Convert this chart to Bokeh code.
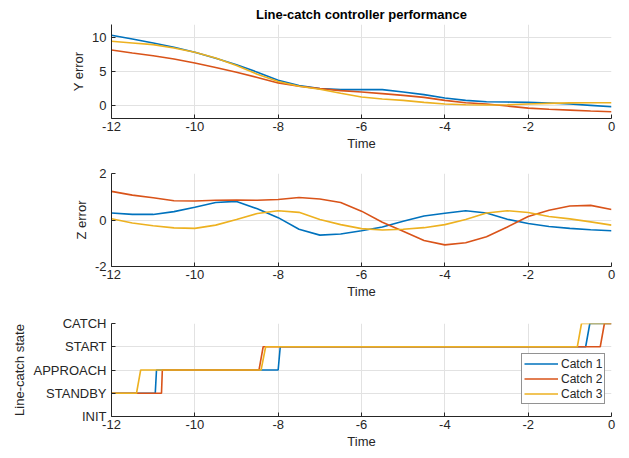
from bokeh.plotting import figure
from bokeh.layouts import column
from bokeh.models import FixedTicker, Range1d, Legend, LegendItem
from bokeh.embed import file_html
from bokeh.resources import INLINE

# ---------------- data ----------------
time = [-12, -11.5, -11, -10.5, -10, -9.5, -9, -8.5, -8, -7.5, -7, -6.5, -6,
        -5.5, -5, -4.5, -4, -3.5, -3, -2.5, -2, -1.5, -1, -0.5, 0]

y_err_1 = [10.4, 9.85, 9.25, 8.6, 7.86, 6.97, 6.0, 4.9, 3.7, 2.9, 2.45, 2.3, 2.3,
           2.3, 1.95, 1.55, 1.05, 0.7, 0.5, 0.45, 0.4, 0.3, 0.15, -0.05, -0.25]
y_err_2 = [8.2, 7.75, 7.35, 6.85, 6.27, 5.6, 4.9, 4.1, 3.3, 2.8, 2.45, 2.15, 1.95,
           1.7, 1.45, 1.15, 0.7, 0.35, 0.15, -0.15, -0.45, -0.62, -0.75, -0.88, -1.0]
y_err_3 = [9.5, 9.25, 9.0, 8.5, 7.86, 7.0, 5.9, 4.6, 3.5, 2.8, 2.35, 1.75, 1.2,
           0.9, 0.7, 0.4, 0.15, 0.05, 0.0, 0.05, 0.15, 0.25, 0.32, 0.35, 0.35]

z_err_1 = [0.3, 0.24, 0.24, 0.36, 0.55, 0.75, 0.8, 0.48, 0.1, -0.4, -0.65, -0.6, -0.46,
           -0.3, -0.05, 0.17, 0.29, 0.4, 0.3, 0.03, -0.15, -0.28, -0.36, -0.42, -0.46]
z_err_2 = [1.23, 1.07, 0.96, 0.83, 0.82, 0.85, 0.86, 0.85, 0.88, 0.97, 0.9, 0.75, 0.38,
           -0.1, -0.48, -0.88, -1.07, -0.98, -0.72, -0.3, 0.15, 0.42, 0.6, 0.63, 0.45]
z_err_3 = [0.05, -0.13, -0.25, -0.34, -0.36, -0.22, 0.02, 0.28, 0.4, 0.33, 0.02, -0.2, -0.37,
           -0.43, -0.4, -0.33, -0.2, 0.02, 0.3, 0.4, 0.32, 0.15, 0.05, -0.08, -0.22]

state_names = ["INIT", "STANDBY", "APPROACH", "START", "CATCH"]
catch1_t = [-12, -10.95, -10.92, -8.0, -7.95, -0.62, -0.52, 0]
catch1_s = [1, 1, 2, 2, 3, 3, 4, 4]
catch2_t = [-12, -10.8, -10.78, -8.46, -8.36, -0.27, -0.17, 0]
catch2_s = [1, 1, 2, 2, 3, 3, 4, 4]
catch3_t = [-12, -11.4, -11.3, -8.41, -8.3, -0.82, -0.72, 0]
catch3_s = [1, 1, 2, 2, 3, 3, 4, 4]
legend_labels = ["Catch 1", "Catch 2", "Catch 3"]

x_ticks = [-12, -10, -8, -6, -4, -2, 0]
colors = ["#0072BD", "#D95319", "#EDB120"]
FONT = "Liberation Sans"
AX = "#262626"
LW = 1.6


def hyphen_labels(ticks):
    return {t: str(t) for t in ticks}


def make_fig(height, top, bottom, yr, yticks, ylabel):
    p = figure(width=629, height=height, output_backend="svg", toolbar_location=None,
               x_range=Range1d(-12, 0), y_range=Range1d(*yr),
               min_border_left=111, min_border_right=18,
               min_border_top=top, min_border_bottom=bottom)
    p.outline_line_color = None
    p.background_fill_color = "white"
    p.border_fill_color = "white"
    for ax, ticks in ((p.xaxis[0], x_ticks), (p.yaxis[0], yticks)):
        ax.ticker = FixedTicker(ticks=ticks)
        ax.major_label_overrides = hyphen_labels(ticks)
        ax.axis_line_color = AX
        ax.axis_line_width = 1
        ax.major_tick_line_color = AX
        ax.major_tick_in = 4
        ax.major_tick_out = 0
        ax.minor_tick_line_color = None
        ax.major_label_text_font = FONT
        ax.major_label_text_font_size = "13px"
        ax.major_label_text_color = AX
        ax.axis_label_text_font = FONT
        ax.axis_label_text_font_size = "13px"
        ax.axis_label_text_color = AX
        ax.axis_label_text_font_style = "normal"
    p.xaxis.axis_label = "Time"
    p.xaxis.major_label_standoff = 3
    p.xaxis.axis_label_standoff = 2
    p.yaxis.axis_label = ylabel
    p.yaxis.major_label_standoff = 5
    p.yaxis.axis_label_standoff = 3
    p.xgrid.ticker = FixedTicker(ticks=x_ticks)
    p.ygrid.ticker = FixedTicker(ticks=yticks)
    for g in (p.xgrid[0], p.ygrid[0]):
        g.grid_line_color = "#e2e2e2"
        g.grid_line_width = 1
    return p


p1 = make_fig(155, 24, 37, (-2, 12), [0, 5, 10], "Y error")
p1.title.text = "Line-catch controller performance"
p1.title.text_font = FONT
p1.title.text_font_size = "13px"
p1.title.text_font_style = "bold"
p1.title.text_color = "black"
p1.title.align = "center"
p1.title.standoff = 6
for ys, c in zip((y_err_1, y_err_2, y_err_3), colors):
    p1.line(time, ys, line_color=c, line_width=LW)

p2 = make_fig(150, 18, 39, (-2, 2), [-2, 0, 2], "Z error")
for zs, c in zip((z_err_1, z_err_2, z_err_3), colors):
    p2.line(time, zs, line_color=c, line_width=LW)

p3 = make_fig(153, 18, 42, (0, 4), [0, 1, 2, 3, 4], "Line-catch state")
p3.yaxis.major_label_overrides = {i: n for i, n in enumerate(state_names)}
p3.yaxis.axis_label_standoff = 4
renderers = []
for ts, ss, c in zip((catch1_t, catch2_t, catch3_t), (catch1_s, catch2_s, catch3_s), colors):
    renderers.append(p3.line(ts, ss, line_color=c, line_width=LW))
legend = Legend(items=[LegendItem(label=l, renderers=[r]) for l, r in zip(legend_labels, renderers)],
                location=(410, 12))
legend.label_text_font = FONT
legend.label_text_font_size = "12px"
legend.label_text_color = AX
legend.label_height = 15
legend.glyph_height = 15
legend.glyph_width = 34
legend.label_standoff = 3
legend.spacing = 0
legend.padding = 2
legend.margin = 0
legend.border_line_color = AX
legend.border_line_width = 1
legend.background_fill_color = "white"
legend.background_fill_alpha = 1
p3.add_layout(legend, "center")

layout = column(p1, p2, p3)
open("out.html", "w").write(file_html(layout, INLINE))
